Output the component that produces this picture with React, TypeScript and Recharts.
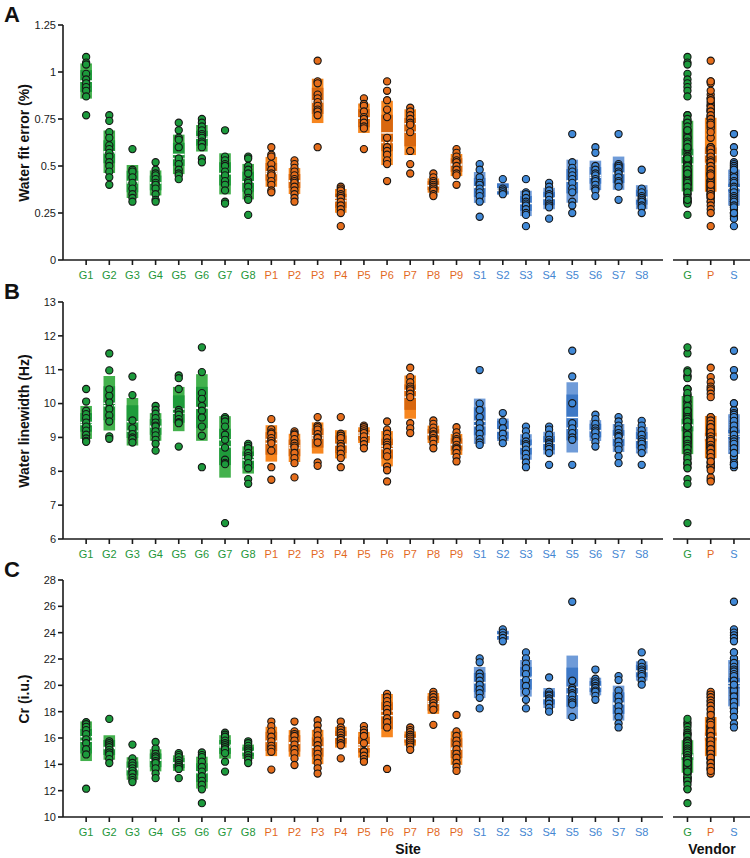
import {
  ComposedChart,
  Scatter,
  XAxis,
  YAxis,
  ReferenceArea,
  ReferenceLine,
} from "recharts";

const FONT = "'Liberation Sans', Arial, sans-serif";

const sites = [
  "G1", "G2", "G3", "G4", "G5", "G6", "G7", "G8",
  "P1", "P2", "P3", "P4", "P5", "P6", "P7", "P8", "P9",
  "S1", "S2", "S3", "S4", "S5", "S6", "S7", "S8",
];
const vendors = ["G", "P", "S"];

const palette: Record<string, { outer: string; inner: string; point: string; text: string }> = {
  G: { outer: "#43b14d", inner: "#1f9b3b", point: "#1c9a3c", text: "#24963a" },
  P: { outer: "#f7861f", inner: "#d8670f", point: "#e56d1b", text: "#e2691d" },
  S: { outer: "#6f9bd8", inner: "#3d78c6", point: "#4189d7", text: "#4486d2" },
};

// water fit error (%), one list per site
const fitError = [
  [1.08, 1.05, 1.04, 0.99, 0.96, 0.94, 0.92, 0.9, 0.87, 0.77],
  [0.77, 0.74, 0.68, 0.65, 0.61, 0.59, 0.57, 0.55, 0.52, 0.5, 0.47, 0.44, 0.4],
  [0.59, 0.48, 0.47, 0.44, 0.41, 0.38, 0.35, 0.33, 0.31],
  [0.52, 0.48, 0.46, 0.45, 0.43, 0.41, 0.4, 0.38, 0.35, 0.32, 0.31],
  [0.73, 0.69, 0.65, 0.64, 0.6, 0.54, 0.51, 0.48, 0.46, 0.45, 0.43],
  [0.75, 0.73, 0.71, 0.69, 0.67, 0.66, 0.65, 0.63, 0.62, 0.6, 0.54, 0.52],
  [0.69, 0.55, 0.53, 0.51, 0.5, 0.47, 0.45, 0.42, 0.4, 0.37, 0.31, 0.3],
  [0.55, 0.54, 0.5, 0.48, 0.46, 0.42, 0.41, 0.39, 0.36, 0.33, 0.32, 0.24],
  [0.6, 0.56, 0.55, 0.51, 0.48, 0.46, 0.45, 0.42, 0.4, 0.37, 0.36],
  [0.53, 0.51, 0.49, 0.47, 0.45, 0.43, 0.42, 0.41, 0.39, 0.37, 0.35, 0.33, 0.31],
  [1.06, 0.95, 0.94, 0.88, 0.86, 0.84, 0.82, 0.8, 0.79, 0.77, 0.6],
  [0.39, 0.38, 0.37, 0.35, 0.34, 0.33, 0.31, 0.29, 0.27, 0.25, 0.18],
  [0.86, 0.83, 0.82, 0.79, 0.76, 0.75, 0.73, 0.71, 0.7, 0.59],
  [0.95, 0.9, 0.85, 0.8, 0.76, 0.65, 0.6, 0.58, 0.56, 0.53, 0.51, 0.42],
  [0.81, 0.79, 0.77, 0.75, 0.73, 0.72, 0.68, 0.58, 0.51, 0.46],
  [0.46, 0.44, 0.42, 0.41, 0.4, 0.39, 0.38, 0.37, 0.35, 0.34],
  [0.59, 0.57, 0.55, 0.53, 0.52, 0.5, 0.48, 0.46, 0.45, 0.4],
  [0.51, 0.48, 0.44, 0.41, 0.4, 0.38, 0.36, 0.34, 0.31, 0.23],
  [0.43, 0.38, 0.37, 0.36, 0.35],
  [0.43, 0.36, 0.35, 0.33, 0.31, 0.3, 0.29, 0.27, 0.25, 0.24, 0.18],
  [0.41, 0.39, 0.37, 0.35, 0.34, 0.32, 0.3, 0.29, 0.28, 0.22],
  [0.67, 0.52, 0.49, 0.47, 0.45, 0.43, 0.41, 0.38, 0.36, 0.31, 0.29, 0.25],
  [0.6, 0.57, 0.5, 0.48, 0.46, 0.45, 0.43, 0.42, 0.4, 0.38, 0.37, 0.34],
  [0.67, 0.51, 0.5, 0.49, 0.47, 0.46, 0.44, 0.42, 0.41, 0.39, 0.32],
  [0.48, 0.38, 0.36, 0.34, 0.33, 0.32, 0.31, 0.29, 0.28, 0.25],
];

// water linewidth (Hz)
const linewidth = [
  [10.43, 10.06, 9.79, 9.69, 9.57, 9.44, 9.32, 9.2, 9.08, 8.97, 8.9, 8.87],
  [11.48, 10.98, 10.42, 10.23, 10.03, 9.84, 9.65, 9.47, 9.03, 8.96],
  [10.8, 10.25, 9.5, 9.27, 9.1, 9.0, 8.95, 8.85],
  [9.93, 9.81, 9.7, 9.57, 9.44, 9.35, 9.32, 9.18, 9.06, 8.93, 8.81, 8.61],
  [10.83, 10.75, 10.43, 9.81, 9.75, 9.67, 9.54, 9.45, 9.42, 8.73],
  [11.66, 10.93, 10.31, 10.14, 9.93, 9.79, 9.59, 9.32, 9.05, 8.12],
  [9.6, 9.55, 9.47, 9.32, 9.08, 8.93, 8.7, 8.34, 8.25, 8.21, 6.47],
  [8.81, 8.75, 8.68, 8.54, 8.45, 8.39, 8.24, 8.09, 7.77, 7.63],
  [9.54, 9.24, 9.15, 9.11, 8.98, 8.9, 8.83, 8.61, 8.12, 7.75],
  [9.18, 9.12, 9.08, 8.95, 8.83, 8.75, 8.7, 8.54, 8.39, 8.24, 7.82],
  [9.6, 9.35, 9.3, 9.23, 9.1, 9.0, 8.98, 8.85, 8.26, 8.16],
  [9.6, 9.11, 9.05, 8.98, 8.81, 8.74, 8.65, 8.52, 8.39, 8.12],
  [9.35, 9.3, 9.24, 9.18, 9.13, 9.03, 8.9, 8.8, 8.68],
  [9.47, 9.23, 9.11, 8.98, 8.85, 8.78, 8.71, 8.57, 8.44, 8.14, 8.03, 7.7],
  [11.06, 10.78, 10.63, 10.5, 10.44, 10.39, 10.29, 10.19, 9.42, 9.27, 9.13],
  [9.5, 9.4, 9.29, 9.18, 9.1, 9.06, 8.98, 8.93, 8.81, 8.68],
  [9.3, 9.15, 9.03, 8.95, 8.9, 8.78, 8.7, 8.66, 8.54, 8.42, 8.29],
  [10.99, 10.0, 9.81, 9.6, 9.42, 9.27, 9.11, 8.95, 8.85, 8.78],
  [9.72, 9.47, 9.27, 9.11, 8.95, 8.83],
  [9.32, 9.18, 9.03, 8.88, 8.8, 8.75, 8.64, 8.52, 8.39, 8.26, 8.12],
  [9.32, 9.23, 9.08, 8.93, 8.85, 8.8, 8.72, 8.66, 8.54, 8.19],
  [11.56, 10.8, 10.01, 9.42, 9.27, 9.13, 9.0, 8.93, 8.19],
  [9.67, 9.54, 9.4, 9.27, 9.2, 9.15, 9.01, 8.86, 8.73],
  [9.6, 9.47, 9.35, 9.24, 9.13, 9.05, 9.01, 8.88, 8.75, 8.64, 8.44, 8.24],
  [9.49, 9.35, 9.21, 9.08, 8.95, 8.88, 8.81, 8.68, 8.54, 8.19],
];

// Cr (i.u.)
const creatine = [
  [17.2, 17.05, 16.85, 16.6, 16.3, 15.9, 15.6, 15.15, 14.75, 12.15],
  [17.45, 15.75, 15.6, 15.45, 15.3, 15.1, 14.9, 14.75, 14.4, 14.1],
  [15.5, 14.45, 14.1, 13.9, 13.7, 13.5, 13.3, 13.0, 12.8, 12.65],
  [15.7, 15.2, 14.8, 14.6, 14.45, 14.25, 14.1, 13.7, 13.3, 12.95],
  [14.85, 14.7, 14.55, 14.3, 14.1, 13.95, 13.8, 13.65, 12.95],
  [14.9, 14.7, 14.55, 14.2, 13.8, 13.45, 13.1, 12.75, 12.45, 12.1, 11.05],
  [16.4, 16.25, 16.1, 15.8, 15.6, 15.45, 15.3, 15.15, 14.85, 14.2, 13.45],
  [15.75, 15.6, 15.4, 15.2, 15.05, 14.9, 14.7, 14.5, 14.35, 14.1],
  [17.25, 16.9, 16.5, 16.1, 15.75, 15.4, 15.2, 14.95, 13.6],
  [17.25, 16.5, 16.3, 16.15, 15.8, 15.5, 15.15, 14.85, 14.45, 13.95],
  [17.35, 16.95, 16.55, 16.2, 15.8, 15.45, 15.15, 14.8, 14.45, 14.1, 13.7, 13.3],
  [17.25, 16.8, 16.6, 16.4, 16.2, 16.0, 15.85, 15.6, 15.45, 14.45],
  [16.9, 16.6, 16.4, 16.15, 15.6, 15.0, 14.95, 14.65, 14.4, 14.2],
  [19.35, 19.1, 18.8, 18.5, 18.2, 17.9, 17.5, 17.2, 16.8, 13.65],
  [16.8, 16.6, 16.45, 16.25, 16.1, 15.95, 15.8, 15.65, 15.5, 15.35, 15.1],
  [19.5, 19.3, 19.1, 18.85, 18.65, 18.45, 18.15, 17.0],
  [17.75, 16.5, 16.15, 15.8, 15.5, 15.15, 14.8, 14.5, 14.1, 13.8, 13.5],
  [22.05, 21.75, 20.9, 20.65, 20.35, 20.05, 19.7, 19.4, 19.05, 18.25],
  [24.25, 24.0, 23.8, 23.6, 23.35],
  [22.5, 22.05, 21.65, 21.3, 20.85, 20.4, 19.95, 19.5, 18.9, 18.25],
  [20.6, 19.5, 19.3, 19.2, 19.0, 18.85, 18.6, 18.3, 18.0],
  [26.35, 20.35, 19.8, 19.65, 19.4, 19.25, 18.9, 18.7, 18.55, 17.6],
  [21.2, 20.5, 20.3, 20.15, 19.95, 19.8, 19.6, 19.5, 19.2, 18.9],
  [20.7, 20.4, 19.6, 19.15, 18.75, 18.4, 18.0, 17.6, 17.1, 16.8],
  [22.5, 21.7, 21.4, 21.2, 21.05, 20.85, 20.7, 20.35, 20.05],
];

const fitTicks = [0, 0.25, 0.5, 0.75, 1, 1.25];
const lwTicks = [6, 7, 8, 9, 10, 11, 12, 13];
const crTicks = [10, 12, 14, 16, 18, 20, 22, 24, 26, 28];

type Group = { name: string; x: number; vendor: string; values: number[] };

function stats(v: number[]) {
  const n = v.length;
  const mean = v.reduce((a, b) => a + b, 0) / n;
  const sd = Math.sqrt(v.reduce((a, b) => a + (b - mean) ** 2, 0) / (n - 1));
  const s = [...v].sort((a, b) => a - b);
  const median = n % 2 ? s[(n - 1) / 2] : (s[n / 2 - 1] + s[n / 2]) / 2;
  return { mean, sd, median, ci: (1.96 * sd) / Math.sqrt(n) };
}

function siteGroups(data: number[][]): Group[] {
  return sites.map((name, i) => ({ name, x: i + 1, vendor: name[0], values: data[i] }));
}

function vendorGroups(data: number[][]): Group[] {
  return vendors.map((v, i) => ({
    name: v,
    x: i + 1,
    vendor: v,
    values: data.filter((_, j) => sites[j][0] === v).flat(),
  }));
}

const axisStroke = { stroke: "#1a1a1a", strokeWidth: 1.6 };
const HALF = 0.25;

function GroupTick(props: any) {
  const { x, y, payload, groups } = props;
  const g = groups.find((d: Group) => d.x === payload.value);
  if (!g) return null;
  return (
    <text x={x} y={y} dy="0.71em" textAnchor="middle" fontSize={11} fontFamily={FONT} fill={palette[g.vendor].text}>
      {g.name}
    </text>
  );
}

function Dot(props: any) {
  const { cx, cy, fill } = props;
  return <circle cx={cx} cy={cy} r={3.6} fill={fill} stroke="#151515" strokeWidth={1.1} />;
}

function Strip(props: {
  groups: Group[];
  left: number;
  top: number;
  width: number;
  height: number;
  marginTop: number;
  xDomain: [number, number];
  yDomain: [number, number];
  yTicks: number[];
  showY: boolean;
}) {
  const { groups, left, top, width, height, marginTop, xDomain, yDomain, yTicks, showY } = props;
  return (
    <div style={{ position: "absolute", left, top }}>
      <ComposedChart width={width} height={height} margin={{ top: marginTop, right: 0, bottom: 0, left: 0 }}>
        <XAxis
          type="number"
          dataKey="x"
          domain={xDomain}
          ticks={groups.map((g) => g.x)}
          interval={0}
          allowDataOverflow
          height={30}
          tickSize={5}
          tickMargin={6}
          axisLine={axisStroke}
          tickLine={axisStroke}
          tick={<GroupTick groups={groups} />}
        />
        <YAxis
          type="number"
          dataKey="y"
          domain={yDomain}
          ticks={yTicks}
          allowDataOverflow
          hide={!showY}
          width={63}
          tickSize={5}
          axisLine={axisStroke}
          tickLine={axisStroke}
          tick={{ fontSize: 11, fill: "#1a1a1a", fontFamily: FONT }}
        />
        {groups.map((g) => {
          const s = stats(g.values);
          return (
            <ReferenceArea
              key={"o" + g.name}
              x1={g.x - HALF}
              x2={g.x + HALF}
              y1={s.mean - s.sd}
              y2={s.mean + s.sd}
              fill={palette[g.vendor].outer}
              fillOpacity={1}
              stroke="none"
            />
          );
        })}
        {groups.map((g) => {
          const s = stats(g.values);
          return (
            <ReferenceArea
              key={"i" + g.name}
              x1={g.x - HALF}
              x2={g.x + HALF}
              y1={s.mean - s.ci}
              y2={s.mean + s.ci}
              fill={palette[g.vendor].inner}
              fillOpacity={1}
              stroke="none"
            />
          );
        })}
        {groups.map((g) => {
          const s = stats(g.values);
          return (
            <ReferenceLine
              key={"m" + g.name}
              segment={[
                { x: g.x - HALF, y: s.mean },
                { x: g.x + HALF, y: s.mean },
              ]}
              stroke="#ffffff"
              strokeWidth={1.4}
            />
          );
        })}
        {groups.map((g) => {
          const s = stats(g.values);
          return (
            <ReferenceLine
              key={"d" + g.name}
              segment={[
                { x: g.x - HALF, y: s.median },
                { x: g.x + HALF, y: s.median },
              ]}
              stroke="#ffffff"
              strokeWidth={1.4}
              strokeDasharray="2 1.5"
            />
          );
        })}
        {vendors.map((v) => (
          <Scatter
            key={v}
            data={groups
              .filter((g) => g.vendor === v)
              .flatMap((g) => g.values.map((y) => ({ x: g.x, y })))}
            fill={palette[v].point}
            shape={<Dot />}
            isAnimationActive={false}
          />
        ))}
      </ComposedChart>
    </div>
  );
}

const labelStyle: React.CSSProperties = {
  position: "absolute",
  fontFamily: FONT,
  fontWeight: "bold",
  color: "#111",
  whiteSpace: "nowrap",
};

function Panel(props: {
  letter: string;
  title: string;
  data: number[][];
  top: number;
  plotTop: number;
  plotBottom: number;
  yDomain: [number, number];
  yTicks: number[];
}) {
  const { letter, title, data, top, plotTop, plotBottom, yDomain, yTicks } = props;
  const marginTop = plotTop - top;
  const height = plotBottom - top + 30;
  return (
    <>
      <div style={{ ...labelStyle, left: 4, top: plotTop - 21, fontSize: 22, lineHeight: "22px" }}>
        {letter}
      </div>
      <div
        style={{
          ...labelStyle,
          left: 24,
          top: (plotTop + plotBottom) / 2,
          fontSize: 14,
          transform: "translate(-50%, -50%) rotate(-90deg)",
        }}
      >
        {title}
      </div>
      <Strip
        groups={siteGroups(data)}
        left={0}
        top={top}
        width={663}
        height={height}
        marginTop={marginTop}
        xDomain={[0, 25.92]}
        yDomain={yDomain}
        yTicks={yTicks}
        showY
      />
      <Strip
        groups={vendorGroups(data)}
        left={673}
        top={top}
        width={77}
        height={height}
        marginTop={marginTop}
        xDomain={[0.378, 3.69]}
        yDomain={yDomain}
        yTicks={yTicks}
        showY={false}
      />
    </>
  );
}

export default function App() {
  return (
    <div
      style={{
        position: "absolute",
        left: 0,
        top: 0,
        width: 750,
        height: 858,
        overflow: "hidden",
        background: "#fff",
      }}
    >
      <Panel letter="A" title="Water fit error (%)" data={fitError} top={0} plotTop={25} plotBottom={260} yDomain={[0, 1.25]} yTicks={fitTicks} />
      <Panel letter="B" title="Water linewidth (Hz)" data={linewidth} top={272} plotTop={302} plotBottom={539} yDomain={[6, 13]} yTicks={lwTicks} />
      <Panel letter="C" title="Cr (i.u.)" data={creatine} top={550} plotTop={580} plotBottom={817} yDomain={[10, 28]} yTicks={crTicks} />
      <div style={{ ...labelStyle, left: 408, top: 849, fontSize: 14, transform: "translate(-50%, -50%)" }}>Site</div>
      <div style={{ ...labelStyle, left: 712, top: 849, fontSize: 14, transform: "translate(-50%, -50%)" }}>Vendor</div>
    </div>
  );
}
